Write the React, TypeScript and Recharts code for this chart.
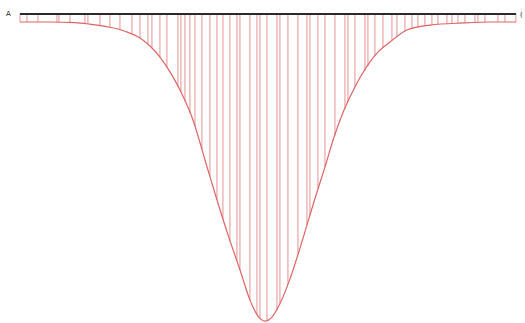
import React from "react";
import {
  ComposedChart,
  Bar,
  Line,
  XAxis,
  YAxis,
  ReferenceLine,
} from "recharts";

// profile of the dip (position, depth in %)
const curveX = [
  20, 50, 75, 90, 110, 125, 140, 150, 160, 170, 180, 193, 205, 217, 229, 240,
  250, 258, 265, 272, 280, 290, 300, 313, 327, 333, 343, 357, 377, 390, 407,
  430, 463, 490, 516,
];
const curveDepth = [
  2.6, 2.6, 2.8, 3.3, 4.3, 5.6, 7.8, 10.4, 14.0, 18.8, 24.7, 34.4, 47.4, 60.4,
  72.7, 83.1, 92.9, 98.1, 99.7, 98.4, 94, 86, 76, 62, 47.5, 41, 32, 22.4, 12.7,
  9.1, 5.2, 3.6, 2.9, 2.6, 2.6,
];

// hatch strokes (position, depth in %)
const hatchX = [
  20, 27, 38, 57, 59, 70, 85, 88, 100, 110, 120, 132, 140, 148, 152, 160, 167,
  178, 181, 185, 190, 195, 202, 210, 217, 223, 230, 237, 240, 250, 257, 260,
  267, 277, 280, 288, 298, 307, 310, 318, 325, 335, 345, 348, 355, 365, 368,
  375, 383, 392, 397, 405, 412, 418, 425, 432, 438, 447, 452, 458, 465, 475,
  478, 485, 498, 505, 516,
];
const hatchDepth = [
  2.6, 2.6, 2.6, 2.7, 2.7, 2.8, 3.1, 3.2, 3.8, 4.3, 5.0, 6.4, 7.8, 9.8, 11.1,
  14.0, 17.3, 23.5, 25.4, 28.4, 32.2, 36.6, 44.1, 52.8, 60.4, 66.5, 73.6, 80.3,
  83.1, 92.9, 97.5, 98.8, 99.5, 96.3, 94, 87.6, 78, 68.5, 65.2, 56.6, 49.6,
  39.2, 30.6, 28.5, 23.7, 18.5, 17, 13.6, 11, 8.6, 7.4, 5.6, 4.8, 4.4, 3.9,
  3.5, 3.3, 3.1, 3.0, 3.0, 2.9, 2.8, 2.8, 2.7, 2.6, 2.6, 2.6,
];

type Row = { x: number; curve?: number | null; hatch?: number | null };

const buildRows = (): Row[] => {
  const map = new Map<number, Row>();
  curveX.forEach((x, i) => {
    map.set(x, { x, curve: -curveDepth[i], hatch: null });
  });
  hatchX.forEach((x, i) => {
    const row = map.get(x) || { x, curve: null };
    row.hatch = -hatchDepth[i];
    map.set(x, row);
  });
  return Array.from(map.values()).sort((a, b) => a.x - b.x);
};

const rows = buildRows();

const markStyle: React.CSSProperties = {
  position: "absolute",
  fontFamily: "DejaVu Sans, sans-serif",
  fontSize: 7,
  color: "#222",
  lineHeight: 1,
};

export default function App() {
  return (
    <div
      style={{
        position: "absolute",
        left: 0,
        top: 0,
        width: 525,
        height: 323,
        background: "#fff",
      }}
    >
      <ComposedChart
        width={525}
        height={323}
        data={rows}
        margin={{ top: 14, right: 9, bottom: 1, left: 20 }}
      >
        <XAxis dataKey="x" type="number" domain={[20, 516]} hide />
        <YAxis type="number" domain={[-100, 0]} hide />
        <Bar
          dataKey="hatch"
          barSize={1.4}
          fill="#d95f5f"
          fillOpacity={0.75}
          isAnimationActive={false}
        />
        <Line
          dataKey="curve"
          type="monotone"
          stroke="#dc6464"
          strokeWidth={1.2}
          dot={false}
          connectNulls
          isAnimationActive={false}
        />
        <ReferenceLine y={0} stroke="#2a2a2a" strokeWidth={2} />
      </ComposedChart>
      <span style={{ ...markStyle, left: 6, top: 11 }}>A</span>
      <span style={{ ...markStyle, left: 520, top: 12 }}>(</span>
    </div>
  );
}
